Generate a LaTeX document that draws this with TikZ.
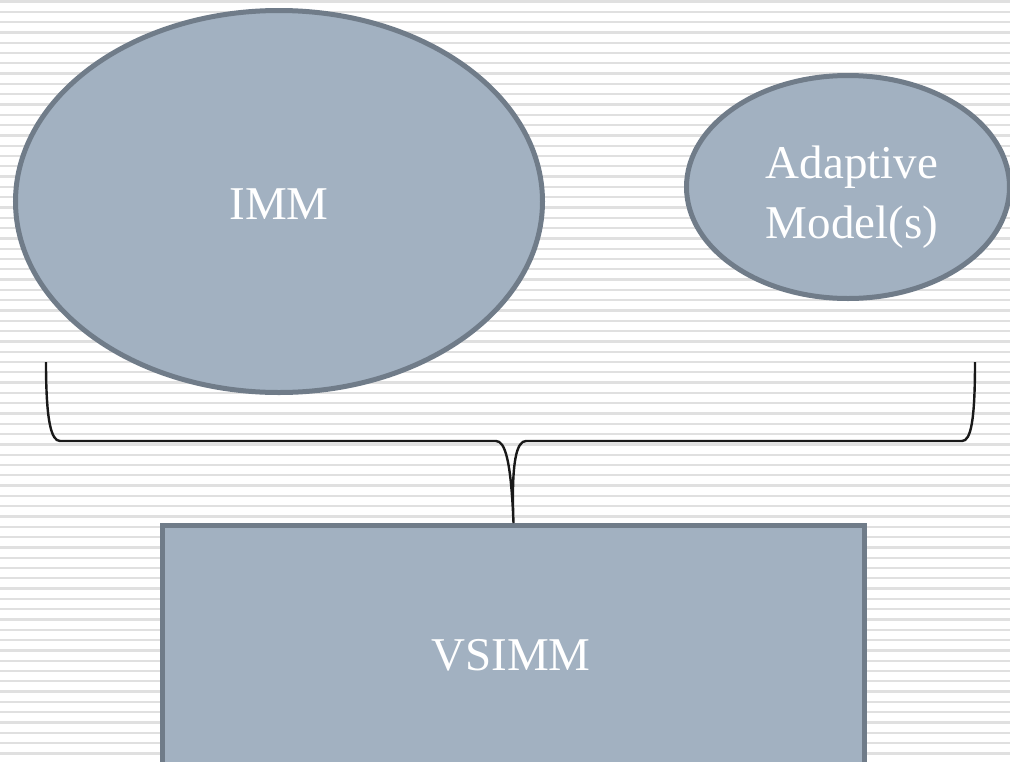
\documentclass[tikz,border=0pt]{standalone}
\usepackage{fontspec}
\setmainfont{Liberation Serif}
\usetikzlibrary{shapes.geometric}
\definecolor{shapefill}{RGB}{162,177,193}
\definecolor{shapeedge}{RGB}{112,124,137}
\definecolor{stripe}{RGB}{224,224,224}
\definecolor{bracecol}{RGB}{25,25,25}
\tikzset{
  blob/.style={ellipse, draw=shapeedge, fill=shapefill, line width=5pt, inner sep=0pt},
  boxshape/.style={rectangle, draw=shapeedge, fill=shapefill, line width=5pt, inner sep=0pt},
  label/.style={text=white, font=\fontsize{47}{60}\selectfont, align=center, inner sep=0pt},
  bracestyle/.style={draw=bracecol, line width=2.4pt}
}
\begin{document}
\begin{tikzpicture}[x=1pt,y=-1pt]
\useasboundingbox (0,0) rectangle (1010,761);
\clip (0,0) rectangle (1010,761);
\fill[white] (0,0) rectangle (1010,761);
\foreach \i in {0,...,74} {
  \draw[stripe, line width=2.3pt] (0,{1.5+\i*10.3}) -- (1010,{1.5+\i*10.3});
}
\node[blob, minimum width=527pt, minimum height=382pt] (imm) at (279,201.5) {};
\node[label] (immtext) at (279,204) {IMM};
\node[blob, minimum width=323pt, minimum height=223pt] (adapt) at (848,187) {};
\node[label] (adapttext) at (852,197) {Adaptive\\Model(s)};
\node[boxshape, minimum width=702pt, minimum height=300pt, anchor=north west] (vsimm) at (160,523) {};
\node[label] (vsimmtext) at (511,655) {VSIMM};
\coordinate (bl) at (46,362);
\coordinate (br) at (975,362);
\draw[bracestyle] (bl) .. controls (46,420) and (51,441) .. (60,441) -- (496,441)
  .. controls (505,441) and (511,460) .. (vsimm.north)
  .. controls (511,460) and (517,441) .. (526,441) -- (962,441)
  .. controls (971,441) and (975,420) .. (br);
\end{tikzpicture}
\end{document}
